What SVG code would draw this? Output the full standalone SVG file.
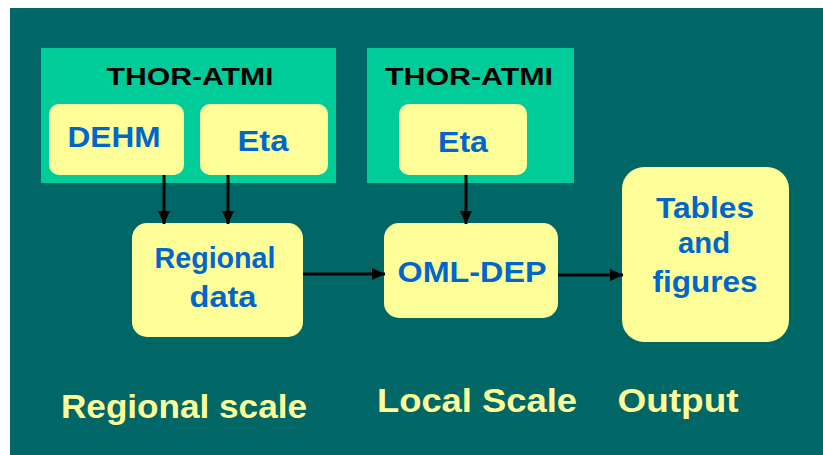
<svg xmlns="http://www.w3.org/2000/svg" width="823" height="455" viewBox="0 0 823 455">
<defs>
<style>
.grp{fill:#00cc99}
.box{fill:#ffff99}
.t{font-family:"Liberation Sans",Arial,sans-serif;font-weight:bold;text-anchor:middle}
.blue{fill:#0066cc;font-size:29px}
.hdr{fill:#000000;font-size:23px}
.lab{fill:#ffff99;font-size:34px}
.con{stroke:#000000;stroke-width:3;fill:none;marker-end:url(#ah)}
</style>
<marker id="ah" markerUnits="userSpaceOnUse" markerWidth="14" markerHeight="14" viewBox="0 0 14 14" refX="13" refY="7" orient="auto">
<path d="M0,1 L13,7 L0,13 Z" fill="#000000"/>
</marker>
</defs>
<rect x="10" y="8" width="813" height="447" fill="#006666"/>

<g id="group-thor1">
<rect class="grp" x="41" y="48" width="295" height="135"/>
<text class="t hdr" x="190" y="85" textLength="167" lengthAdjust="spacingAndGlyphs">THOR-ATMI</text>
</g>
<g id="group-thor2">
<rect class="grp" x="367" y="48" width="207" height="135"/>
<text class="t hdr" x="469" y="85" textLength="168" lengthAdjust="spacingAndGlyphs">THOR-ATMI</text>
</g>

<g id="node-dehm">
<rect class="box" x="49" y="104" width="135" height="71" rx="10"/>
<text class="t blue" x="114" y="147" textLength="93" lengthAdjust="spacingAndGlyphs">DEHM</text>
</g>
<g id="node-eta1">
<rect class="box" x="200" y="104" width="128" height="71" rx="10"/>
<text class="t blue" x="263" y="151" textLength="51" lengthAdjust="spacingAndGlyphs">Eta</text>
</g>
<g id="node-eta2">
<rect class="box" x="399" y="104" width="128" height="71" rx="10"/>
<text class="t blue" x="463" y="152" textLength="50" lengthAdjust="spacingAndGlyphs">Eta</text>
</g>
<g id="node-regional">
<rect class="box" x="132" y="223" width="171" height="114" rx="15"/>
<text class="t blue" x="215" y="268" textLength="121" lengthAdjust="spacingAndGlyphs">Regional</text>
<text class="t blue" x="223" y="307" textLength="67" lengthAdjust="spacingAndGlyphs">data</text>
</g>
<g id="node-oml">
<rect class="box" x="384" y="223" width="174" height="95" rx="15"/>
<text class="t blue" x="472" y="282" textLength="149" lengthAdjust="spacingAndGlyphs">OML-DEP</text>
</g>
<g id="node-tables">
<rect class="box" x="622" y="167" width="167" height="175" rx="22"/>
<text class="t blue" x="705" y="218" textLength="98" lengthAdjust="spacingAndGlyphs">Tables</text>
<text class="t blue" x="704" y="253" textLength="52" lengthAdjust="spacingAndGlyphs">and</text>
<text class="t blue" x="705" y="292" textLength="105" lengthAdjust="spacingAndGlyphs">figures</text>
</g>

<g id="connectors">
<line class="con" x1="164" y1="175" x2="164" y2="224"/>
<line class="con" x1="228" y1="175" x2="228" y2="224"/>
<line class="con" x1="466" y1="175" x2="466" y2="224"/>
<line class="con" x1="303" y1="274" x2="385" y2="274"/>
<line class="con" x1="558" y1="275" x2="623" y2="275"/>
</g>

<g id="labels">
<text class="t lab" x="184" y="418" textLength="246" lengthAdjust="spacingAndGlyphs">Regional scale</text>
<text class="t lab" x="477" y="412" textLength="200" lengthAdjust="spacingAndGlyphs">Local Scale</text>
<text class="t lab" x="678" y="412" textLength="121" lengthAdjust="spacingAndGlyphs">Output</text>
</g>
</svg>
